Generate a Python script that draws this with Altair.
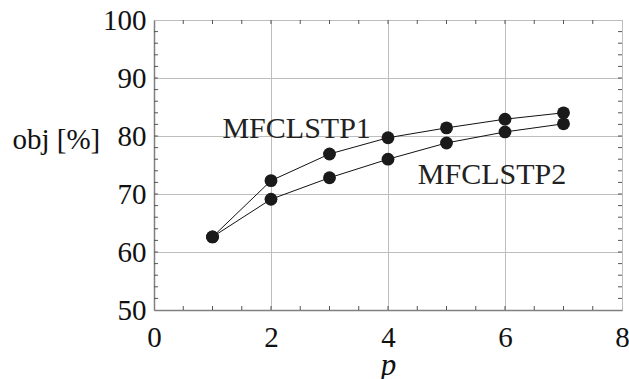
import altair as alt
import pandas as pd

# --- data ---
p_values = [1, 2, 3, 4, 5, 6, 7]
mfclstp1 = [62.6, 72.3, 76.9, 79.7, 81.4, 82.9, 84.0]
mfclstp2 = [62.6, 69.1, 72.8, 76.0, 78.8, 80.7, 82.1]
series_names = ["MFCLSTP1", "MFCLSTP2"]

label_text = ["MFCLSTP1", "MFCLSTP2"]
label_x = [1.17, 4.51]
label_y = [79.7, 71.7]

x_major = [0, 2, 4, 6, 8]
y_major = [50, 60, 70, 80, 90, 100]
x_minor = [0.5, 1, 1.5, 2, 2.5, 3, 3.5, 4, 4.5, 5, 5.5, 6, 6.5, 7, 7.5]
y_minor = [52, 54, 56, 58, 60, 62, 64, 66, 68, 70, 72, 74, 76, 78, 80,
           82, 84, 86, 88, 90, 92, 94, 96, 98]

W, H = 468, 290
FONT = "Times New Roman, Liberation Serif, Tinos, Times, serif"

df = pd.DataFrame({
    "p": p_values * 2,
    "obj": mfclstp1 + mfclstp2,
    "series": [series_names[0]] * len(p_values) + [series_names[1]] * len(p_values),
})
lab = pd.DataFrame({"text": label_text, "x": label_x, "y": label_y})
xt = pd.DataFrame({"v": x_minor})
yt = pd.DataFrame({"v": y_minor})

xscale = alt.Scale(domain=[0, 8], nice=False, zero=False)
yscale = alt.Scale(domain=[50, 100], nice=False, zero=False)

xaxis = alt.Axis(values=x_major, format="d", grid=True, gridColor="#bdbdbd", gridWidth=1,
                 ticks=False, domain=True, domainColor="#808080", domainWidth=1.5,
                 labelFont=FONT, labelFontSize=29, labelColor="#111",
                 labelPadding=13, labelFlush=False,
                 title="p", titleFont=FONT, titleFontSize=31, titleFontStyle="italic",
                 titleFontWeight="normal", titleColor="#111", titlePadding=-2)
yaxis = alt.Axis(values=y_major, format="d", grid=True, gridColor="#bdbdbd", gridWidth=1,
                 ticks=False, domain=True, domainColor="#808080", domainWidth=1.5,
                 labelFont=FONT, labelFontSize=29, labelColor="#111",
                 labelPadding=8, labelFlush=False,
                 title="obj [%]", titleFont=FONT, titleFontSize=29, titleFontWeight="normal",
                 titleColor="#111", titleAngle=0, titleAlign="left", titleBaseline="alphabetic",
                 titleX=-142, titleY=128)

base = alt.Chart(df)
lines = base.mark_line(color="#111", strokeWidth=1).encode(
    x=alt.X("p:Q", scale=xscale, axis=xaxis),
    y=alt.Y("obj:Q", scale=yscale, axis=yaxis),
    detail="series:N",
)
points = base.mark_circle(size=165, color="#1a1a1a", opacity=1).encode(
    x=alt.X("p:Q", scale=xscale),
    y=alt.Y("obj:Q", scale=yscale),
)
texts = alt.Chart(lab).mark_text(align="left", baseline="alphabetic", font=FONT,
                                 fontSize=30, color="#222").encode(
    x=alt.X("x:Q", scale=xscale),
    y=alt.Y("y:Q", scale=yscale),
    text="text:N",
)
tick_col = "#555"
xb = alt.Chart(xt).mark_rule(color=tick_col, strokeWidth=1).encode(
    x=alt.X("v:Q", scale=xscale), y=alt.value(H), y2=alt.value(H - 4))
xtp = alt.Chart(xt).mark_rule(color=tick_col, strokeWidth=1).encode(
    x=alt.X("v:Q", scale=xscale), y=alt.value(0), y2=alt.value(4))
yl = alt.Chart(yt).mark_rule(color=tick_col, strokeWidth=1).encode(
    y=alt.Y("v:Q", scale=yscale), x=alt.value(0), x2=alt.value(4))
yr = alt.Chart(yt).mark_rule(color=tick_col, strokeWidth=1).encode(
    y=alt.Y("v:Q", scale=yscale), x=alt.value(W), x2=alt.value(W - 4))

chart = alt.layer(xb, xtp, yl, yr, lines, points, texts).properties(
    width=W, height=H,
    autosize=alt.AutoSizeParams(type="none"),
    padding={"left": 154, "top": 20, "right": 7, "bottom": 69},
    background="white",
).configure_view(stroke="#333", strokeWidth=1).configure(font=FONT)

chart.save("out.html", embed_options={"renderer": "svg", "actions": False})
